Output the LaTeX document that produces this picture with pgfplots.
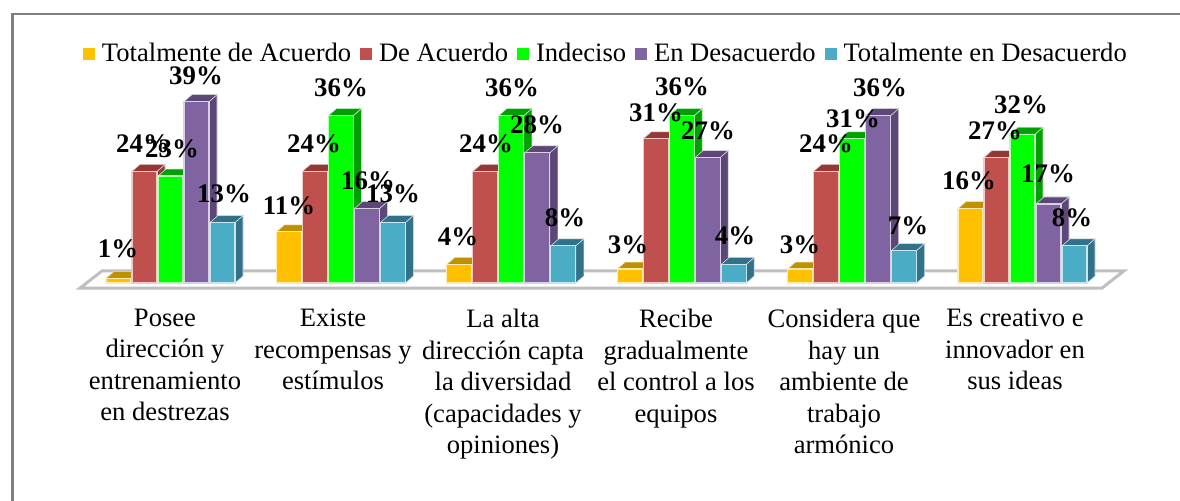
\documentclass[border=0pt]{standalone}
\usepackage{fontspec}
\setmainfont{Liberation Serif}
\usepackage{pgfplots}
\usepackage{pgfplotstable}
\pgfplotsset{compat=1.18}

\definecolor{cA}{HTML}{FFC000}\definecolor{cAs}{HTML}{BF9000}
\definecolor{cB}{HTML}{C0504D}\definecolor{cBs}{HTML}{953735}
\definecolor{cC}{HTML}{00FF00}\definecolor{cCs}{HTML}{00A000}
\definecolor{cD}{HTML}{8064A2}\definecolor{cDs}{HTML}{5C4776}
\definecolor{cE}{HTML}{4BACC6}\definecolor{cEs}{HTML}{31728A}
\definecolor{piso}{HTML}{BFBFBF}
\definecolor{marco}{HTML}{7F7F7F}

% g = grupo, una columna por serie
\pgfplotstableread{
g  s0 s1 s2 s3 s4
0  1  24 23 39 13
1  11 24 36 16 13
2  4  24 36 28 8
3  3  31 36 27 4
4  3  24 31 36 7
5  16 27 32 17 8
}\datos

% etiquetas: x e y en pixeles del original, valor
\pgfplotstableread{
x    py  v
118  248 1
143  143 24
172  148 23
196  75  39
224  193 13
289  205 11
314  143 24
341  87  36
368  180 16
393  193 13
458  236 4
486  143 24
512  87  36
537  124 28
565  217 8
628  244 3
656  112 31
682  86  36
708  130 27
735  235 4
800  244 3
826  143 24
853  118 31
880  87  36
908  225 7
969  180 16
995  130 27
1021 104 32
1048 173 17
1072 217 8
}\etiquetas

\newcommand{\caras}[3]{% serie, color lateral, color superior
  \pgfplotsforeachungrouped \g in {0,...,5}{%
    \pgfplotstablegetelem{\g}{s#1}\of\datos
    \edef\vv{\pgfplotsretval}%
    \edef\xa{\fpeval{106+170.4*\g+26*#1+25}}%
    \edef\xb{\fpeval{\xa+8}}%
    \edef\xc{\fpeval{\xa-25}}%
    \edef\xd{\fpeval{\xc+8}}%
    \edef\vb{\fpeval{\vv+1.5}}%
    \edef\tmp{\noexpand\addplot[fill=#2,draw=white!75!#2,line width=.3pt,forget plot]
      coordinates {(\xa,0) (\xb,1.5) (\xb,\vb) (\xa,\vv)} -- cycle;
      \noexpand\addplot[fill=#3,draw=white!75!#3,line width=.3pt,forget plot]
      coordinates {(\xc,\vv) (\xd,\vb) (\xb,\vb) (\xa,\vv)} -- cycle;}%
    \tmp
  }%
}

\pgfplotsset{
  frente/.style={ybar,bar width=12.5pt,bar shift=0pt,fill=#1,draw=white!70!#1,line width=.6pt,
    legend image code/.code={\fill[#1] (0pt,-2.7pt) rectangle (5.2pt,2.7pt);}},
}

\begin{document}
\begin{tikzpicture}
\useasboundingbox (0pt,-100.5pt) rectangle (590pt,150pt);
\draw[marco,line width=1.2pt] (6.3pt,-100.5pt) -- (6.3pt,143pt) -- (590pt,143pt);
\begin{axis}[
  at={(0pt,0pt)},anchor=south west,
  scale only axis,width=590pt,height=150pt,
  xmin=0,xmax=1180,ymin=-3.656,ymax=60.86,
  clip=false,
  axis line style={draw=none},
  major tick style={draw=none},
  ytick=\empty,
  xtick={165,333,503,676,844,1015},
  xticklabels={
    {Posee\\dirección y\\entrenamiento\\en destrezas},
    {Existe\\recompensas y\\estímulos},
    {La alta\\dirección capta\\la diversidad\\(capacidades y\\opiniones)},
    {Recibe\\gradualmente\\el control a los\\equipos},
    {Considera que\\hay un\\ambiente de\\trabajo\\armónico},
    {Es creativo e\\innovador en\\sus ideas}},
  xticklabel style={align=center,anchor=north,yshift=-1pt,
    font=\fontsize{13.3}{15.75}\selectfont},
  legend columns=5,
  legend style={at={(83/1180,246/300)},anchor=west,draw=none,fill=none,inner sep=0pt,
    font=\fontsize{13.3}{15}\selectfont,
    /tikz/every even column/.style={column sep=2.6pt},
    nodes={inner xsep=2pt}},
  legend cell align=left,
]
% piso
\addplot[fill=white,draw=piso,line width=1.5pt,forget plot]
  coordinates {(80,-1.1) (102,2.6) (1124,2.6) (1102,-1.1)} -- cycle;

\caras{0}{cAs}{cAs}
\addplot[frente=cA] table[x expr=106+170.4*\thisrow{g}+12.5,y=s0]{\datos};
\caras{1}{cBs}{cBs}
\addplot[frente=cB] table[x expr=132+170.4*\thisrow{g}+12.5,y=s1]{\datos};
\caras{2}{cCs}{cCs}
\addplot[frente=cC] table[x expr=158+170.4*\thisrow{g}+12.5,y=s2]{\datos};
\caras{3}{cDs}{cDs}
\addplot[frente=cD] table[x expr=184+170.4*\thisrow{g}+12.5,y=s3]{\datos};
\caras{4}{cEs}{cEs}
\addplot[frente=cE] table[x expr=210+170.4*\thisrow{g}+12.5,y=s4]{\datos};

% etiquetas encima de todo
\addplot[draw=none,forget plot,
  point meta=explicit,
  nodes near coords={\pgfmathprintnumber[precision=0,assume math mode=true]{\pgfplotspointmeta}\%},
  nodes near coords style={anchor=center,inner sep=0pt,font=\fontsize{13.4}{15}\selectfont\bfseries},
] table[x=x,y expr=(282-\thisrow{py})/4.65,meta=v]{\etiquetas};

\legend{\hspace{1.5pt}Totalmente de Acuerdo,\hspace{1.5pt}De Acuerdo,\hspace{1.5pt}Indeciso,\hspace{1.5pt}En Desacuerdo,\hspace{1.5pt}Totalmente en Desacuerdo}
\end{axis}
\end{tikzpicture}
\end{document}
